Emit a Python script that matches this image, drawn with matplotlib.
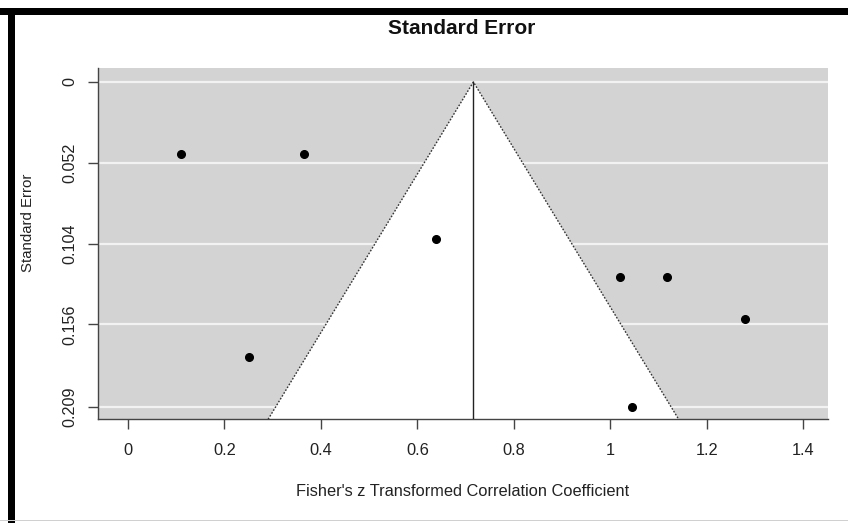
import numpy as np
import matplotlib.pyplot as plt
from matplotlib.patches import Rectangle, Polygon

plt.rcParams['font.family'] = ['Liberation Sans', 'DejaVu Sans']

# study effects (Fisher's z) and their standard errors
yi = [0.110, 0.365, 0.251, 0.638, 1.020, 1.117, 1.279, 1.045]
sei = [0.0463, 0.0463, 0.1768, 0.1013, 0.1253, 0.1253, 0.1526, 0.2090]
est = 0.716  # pooled estimate
se_ticks = [0, 0.052, 0.104, 0.156, 0.209]
se_labels = ['0', '0.052', '0.104', '0.156', '0.209']
z_ticks = [0, 0.2, 0.4, 0.6, 0.8, 1, 1.2, 1.4]
z_labels = ['0', '0.2', '0.4', '0.6', '0.8', '1', '1.2', '1.4']

fig = plt.figure(figsize=(8.48, 5.23), dpi=100)
ax = fig.add_axes([98/848, 1 - 419.3/523, 730/848, 351.3/523])

xlo, xhi = -0.0622, 1.4511
ylo, yhi = 0.2171, -0.009
ax.set_xlim(xlo, xhi)
ax.set_ylim(ylo, yhi)
ax.set_facecolor('#d3d3d3')

# white horizontal lines at the se ticks
for s in se_ticks:
    ax.axhline(s, color='#f2f2f2', lw=1.6, zorder=1)

# pseudo confidence funnel
smax = ylo
funnel = Polygon([(est - 1.96 * smax, smax), (est, 0), (est + 1.96 * smax, smax)],
                 closed=True, facecolor='white', edgecolor='none', zorder=2)
ax.add_patch(funnel)
ax.plot([est - 1.96 * smax, est, est + 1.96 * smax], [smax, 0, smax],
        color='#333333', lw=1.0, ls=(0, (1.2, 1.2)), zorder=3)
ax.plot([est, est], [0, smax], color='#222222', lw=1.0, zorder=3)

ax.plot(yi, sei, 'o', color='black', markersize=5.5, zorder=4)

ax.set_xticks(z_ticks)
ax.set_xticklabels(z_labels)
ax.set_yticks(se_ticks)
ax.set_yticklabels(se_labels, rotation=90, va='center')
ax.tick_params(axis='x', length=7, width=1, color='#444444', pad=10,
               labelsize=11.8, labelcolor='#222222')
ax.tick_params(axis='y', length=7, width=1, color='#444444', pad=8,
               labelsize=11.6, labelcolor='#222222')
for side in ['top', 'right']:
    ax.spines[side].set_visible(False)
for side in ['left', 'bottom']:
    ax.spines[side].set_color('#444444')
    ax.spines[side].set_linewidth(1.0)

fig.text(462/848, 1 - 29/523, 'Standard Error', ha='center', va='center',
         fontsize=15, fontweight='bold', color='#111111')
fig.text(463/848, 1 - 492/523, "Fisher's z Transformed Correlation Coefficient",
         ha='center', va='center', fontsize=11.8, color='#222222')
fig.text(28/848, 1 - 223/523, 'Standard Error', ha='center', va='center',
         rotation=90, fontsize=10.8, color='#222222')

# black frame on top and left, thin grey line at bottom
fig.patches.append(Rectangle((0, 1 - 15/523), 1, 7/523, transform=fig.transFigure,
                             facecolor='black', edgecolor='none'))
fig.patches.append(Rectangle((8/848, 0), 7/848, 1 - 8/523, transform=fig.transFigure,
                             facecolor='black', edgecolor='none'))
fig.patches.append(Rectangle((0, 2/523), 1, 1.5/523, transform=fig.transFigure,
                             facecolor='#d0d0d0', edgecolor='none'))

fig.savefig('out.png', dpi=100)
